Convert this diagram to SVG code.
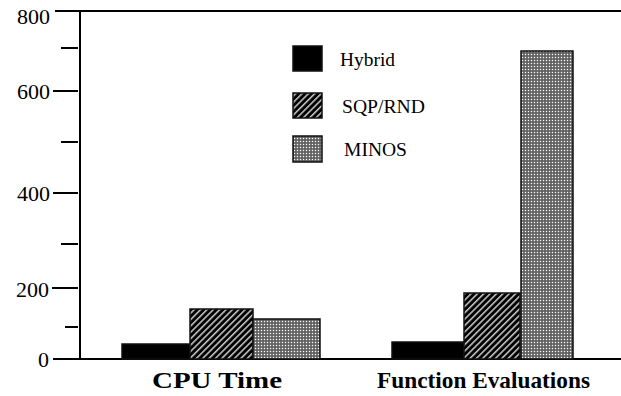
<svg xmlns="http://www.w3.org/2000/svg" width="621" height="396" viewBox="0 0 621 396">
<style>
.ax{stroke:#000;stroke-width:2;fill:none}
.tk{stroke:#000;stroke-width:2}
.num{font-family:"Liberation Serif",serif;font-size:22px;fill:#000;text-anchor:end}
.lg{font-family:"Liberation Serif",serif;font-size:18px;fill:#000}
.cat{font-family:"Liberation Serif",serif;font-size:23px;font-weight:bold;fill:#000}
.bar{stroke:#111;stroke-width:1.5}
</style>
<defs>
<pattern id="hatch" width="4.5" height="4.5" patternUnits="userSpaceOnUse" patternTransform="rotate(45)">
<rect width="4.5" height="4.5" fill="#000"/>
<rect x="0" y="0" width="1.5" height="4.5" fill="#ccc"/>
</pattern>
<pattern id="dots" width="3" height="3" patternUnits="userSpaceOnUse">
<rect width="3" height="3" fill="#777"/>
<rect x="0" y="0" width="1" height="1" fill="#fff"/>
<rect x="1.5" y="1.5" width="1" height="1" fill="#222"/>
</pattern>
</defs>
<rect width="621" height="396" fill="#fff"/>
<g id="axes">
<path class="ax" d="M80,11 V359 M80,11 H621 M80,359 H621"/>
<path class="tk" d="M55,11 H80 M61,48 H78 M53,91 H78 M61,142 H78 M53,193 H78 M61,244 H78 M52,288 H78 M65,327 H78 M53,359 H80"/>
<text class="num" x="50" y="24">800</text>
<text class="num" x="50" y="99">600</text>
<text class="num" x="50" y="201">400</text>
<text class="num" x="49" y="297">200</text>
<text class="num" x="49" y="367">0</text>
</g>
<g id="cpu-time">
<rect class="bar" x="122" y="344" width="68" height="15" fill="#000"/>
<rect class="bar" x="190" y="309" width="63" height="50" fill="url(#hatch)"/>
<rect class="bar" x="253" y="319" width="67" height="40" fill="url(#dots)"/>
<text class="cat" x="152" y="388" textLength="130" lengthAdjust="spacingAndGlyphs">CPU Time</text>
</g>
<g id="function-evaluations">
<rect class="bar" x="392" y="342" width="72" height="17" fill="#000"/>
<rect class="bar" x="464" y="293" width="56" height="66" fill="url(#hatch)"/>
<rect class="bar" x="521" y="51" width="52" height="308" fill="url(#dots)"/>
<text class="cat" x="377" y="388" textLength="213" lengthAdjust="spacingAndGlyphs">Function Evaluations</text>
</g>
<g id="legend">
<rect class="bar" x="293" y="46" width="29" height="25" fill="#000"/>
<text class="lg" x="340" y="66" textLength="55" lengthAdjust="spacingAndGlyphs">Hybrid</text>
<rect class="bar" x="293" y="93" width="29" height="25" fill="url(#hatch)"/>
<text class="lg" x="342" y="113" textLength="83" lengthAdjust="spacingAndGlyphs">SQP/RND</text>
<rect class="bar" x="293" y="136" width="29" height="26" fill="url(#dots)"/>
<text class="lg" x="344" y="156" textLength="63" lengthAdjust="spacingAndGlyphs">MINOS</text>
</g>
</svg>
